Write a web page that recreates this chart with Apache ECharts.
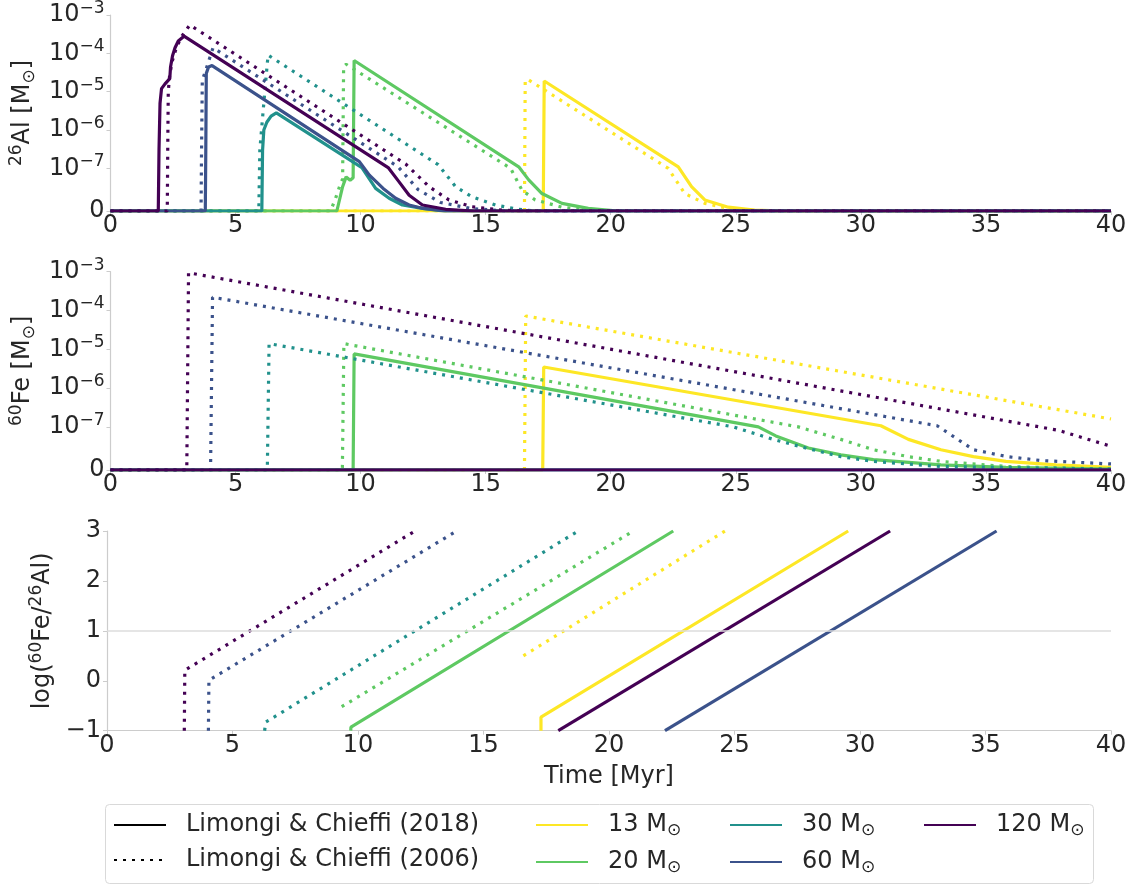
<!DOCTYPE html>
<html>
<head>
<meta charset="utf-8">
<script src="https://cdn.jsdelivr.net/npm/echarts@6.0.0/dist/echarts.min.js"></script>
<style>
  html, body { margin: 0; padding: 0; background: #ffffff; }
  #chart { width: 1137px; height: 888px; }
</style>
</head>
<body>
<div id="chart"></div>
<script>
// ---- axis ticks ----
const timeTicks = [0, 5, 10, 15, 20, 25, 30, 35, 40];
const decadeExponents = [-7, -6, -5, -4, -3];
const ratioTicks = [-1, 0, 1, 2, 3];
const refLevel = 1;

// ---- legend entries ----
const masses = ['13 M⊙', '20 M⊙', '30 M⊙', '60 M⊙', '120 M⊙'];
const massColors = ['#fde725', '#5ec962', '#21918c', '#3b528b', '#440154'];
const modelNames = ['Limongi & Chieffi (2018)', 'Limongi & Chieffi (2006)'];

// ---- 26Al ejected mass [Msun] vs time [Myr], Limongi & Chieffi (2018) ----
const al26_LC18_13 = [[0,0],[17.30,0],[17.34,1.9e-5],[22.7,1.1e-7],[23.23,0.57e-7],[23.76,0.26e-7],[24.7,0.09e-7],[25.75,0.02e-7],[27.0,0],[40,0]];
const al26_LC18_20 = [[0,0],[9.05,0],[9.28,0.57e-7],[9.42,0.8e-7],[9.58,0.72e-7],[9.70,0.78e-7],[9.74,6.5e-5],[16.32,1.1e-7],[16.72,0.73e-7],[17.25,0.41e-7],[18.05,0.18e-7],[19.1,0.06e-7],[20.3,0],[40,0]];
const al26_LC18_30 = [[0,0],[6.05,0],[6.08,3e-7],[6.13,1.0e-6],[6.25,1.6e-6],[6.42,2.3e-6],[6.63,2.8e-6],[10.05,1.05e-7],[10.6,0.53e-7],[11.14,0.3e-7],[11.67,0.14e-7],[12.47,0.06e-7],[13.3,0],[40,0]];
const al26_LC18_60 = [[0,0],[3.79,0],[3.81,3e-7],[3.83,3e-5],[3.92,4.4e-5],[4.06,4.8e-5],[9.95,1.5e-7],[10.35,0.84e-7],[10.9,0.53e-7],[11.4,0.3e-7],[11.94,0.14e-7],[12.5,0.06e-7],[13.4,0],[40,0]];
const al26_LC18_120 = [[0,0],[1.91,0],[1.94,3.2e-7],[1.98,5e-6],[2.04,1.2e-5],[2.18,1.6e-5],[2.37,2.2e-5],[2.40,4.4e-5],[2.48,8.7e-5],[2.58,1.4e-4],[2.71,2.1e-4],[2.94,2.8e-4],[11.1,1.05e-7],[11.53,0.69e-7],[11.94,0.37e-7],[12.47,0.14e-7],[13.4,0.04e-7],[14.5,0],[40,0]];

// ---- 26Al, Limongi & Chieffi (2006) ----
const al26_LC06_13 = [[0,0],[16.55,0],[16.58,2.0e-5],[16.68,2.1e-5],[22.3,1.0e-7],[22.43,0.88e-7],[22.96,0.41e-7],[23.76,0.18e-7],[24.7,0.06e-7],[26.0,0],[40,0]];
const al26_LC06_20 = [[0,0],[8.8,0],[9.0,0.3e-7],[9.2,0.65e-7],[9.28,0.75e-7],[9.32,4.5e-5],[9.42,5.2e-5],[16.0,1.0e-7],[16.45,0.49e-7],[16.98,0.26e-7],[18.05,0.09e-7],[19.4,0],[40,0]];
const al26_LC06_30 = [[0,0],[5.93,0],[5.97,3e-7],[6.1,3e-6],[6.25,4e-5],[6.30,9e-5],[13.1,1.25e-7],[13.8,0.57e-7],[14.46,0.33e-7],[15.4,0.14e-7],[16.3,0.04e-7],[17.0,0],[40,0]];
const al26_LC06_60 = [[0,0],[3.62,0],[3.64,3e-7],[3.67,2e-5],[3.8,3.5e-5],[3.95,7e-5],[4.1,1.4e-4],[11.5,1.1e-7],[12.3,0.5e-7],[13.2,0.2e-7],[14.4,0.06e-7],[15.8,0],[40,0]];
const al26_LC06_120 = [[0,0],[2.27,0],[2.29,4e-7],[2.31,1e-5],[2.36,2.5e-5],[2.46,6e-5],[2.6,1.2e-4],[2.8,2.5e-4],[3.17,5.5e-4],[11.8,1.3e-7],[12.74,0.57e-7],[13.53,0.26e-7],[14.46,0.1e-7],[15.66,0.02e-7],[16.5,0],[40,0]];

// ---- 60Fe ejected mass [Msun], Limongi & Chieffi (2018) ----
const fe60_LC18_13 = [[0,0],[17.28,0],[17.32,3.5e-6],[30.8,1.07e-7],[31.9,0.71e-7],[33.2,0.47e-7],[34.5,0.31e-7],[35.8,0.2e-7],[37.8,0.12e-7],[40,0.06e-7]];
const fe60_LC18_20 = [[0,0],[9.70,0],[9.74,7.6e-6],[25.9,1.0e-7],[26.6,0.79e-7],[27.9,0.51e-7],[29.2,0.35e-7],[30.5,0.24e-7],[33.2,0.12e-7],[35.8,0.06e-7],[40,0.02e-7]];
const fe60_LC18_30 = [[0,0],[40,0]];
const fe60_LC18_60 = [[0,0],[40,0]];
const fe60_LC18_120 = [[0,0],[40,0]];

// ---- 60Fe, Limongi & Chieffi (2006) ----
const fe60_LC06_13 = [[0,0],[16.55,0],[16.6,7.2e-5],[40,1.6e-7]];
const fe60_LC06_20 = [[0,0],[9.27,0],[9.33,1.4e-5],[27.5,1.0e-7],[29.2,0.71e-7],[30.5,0.47e-7],[31.9,0.31e-7],[33.2,0.2e-7],[35.84,0.08e-7],[40,0.02e-7]];
const fe60_LC06_30 = [[0,0],[6.27,0],[6.34,1.4e-5],[24.9,1.0e-7],[26.5,0.71e-7],[27.8,0.51e-7],[29.2,0.31e-7],[30.5,0.2e-7],[33.2,0.08e-7],[40,0.02e-7]];
const fe60_LC06_60 = [[0,0],[4.0,0],[4.08,2.2e-4],[33.05,1.07e-7],[34.5,0.47e-7],[35.86,0.31e-7],[37.2,0.22e-7],[40,0.14e-7]];
const fe60_LC06_120 = [[0,0],[3.05,0],[3.12,9.4e-4],[37.9,0.92e-7],[40,0.55e-7]];

// ---- log(60Fe/26Al), Limongi & Chieffi (2018) ----
const ratio_LC18_13 = [[17.29,-1],[17.29,-0.73],[29.53,3]];
const ratio_LC18_20 = [[9.71,-1],[9.72,-0.93],[22.56,3]];
const ratio_LC18_30 = [];
const ratio_LC18_60 = [[22.23,-1],[35.44,3]];
const ratio_LC18_120 = [[17.98,-1],[31.2,3]];

// ---- log(60Fe/26Al), Limongi & Chieffi (2006) ----
const ratio_LC06_13 = [[16.59,0.5],[24.62,3]];
const ratio_LC06_20 = [[9.35,-0.52],[20.97,3]];
const ratio_LC06_30 = [[6.28,-1],[6.32,-0.83],[18.77,3]];
const ratio_LC06_60 = [[4.04,-1],[4.06,0.01],[13.93,3]];
const ratio_LC06_120 = [[3.08,-1],[3.10,0.21],[12.27,3]];

// ---- symmetric-log scale (linear below 1e-7, base 10 above) ----
const LINTHRESH = 1e-7;
const LINSCALE = 1 / (1 - 1 / 10);
function symlog(v) {
  return v <= LINTHRESH ? (v / LINTHRESH) * LINSCALE : LINSCALE + Math.log10(v / LINTHRESH);
}
const logTickPos = [0].concat(decadeExponents.map(e => symlog(Math.pow(10, e))));

const FONT = 'DejaVu Sans';
const TEXT = '#262626';
const SPINE = '#cccccc';
const LW = 3.2;
const DOTS = [3, 6];

const richText = {
  b: { fontSize: 24, lineHeight: 30, fontFamily: FONT, color: TEXT },
  s: { fontSize: 17, lineHeight: 17, verticalAlign: 'top', fontFamily: FONT, color: TEXT },
  d: { fontSize: 17, lineHeight: 17, verticalAlign: 'bottom', fontFamily: FONT, color: TEXT }
};

function symlogLabel(u) {
  if (u < 0.01) return '{b|0}';
  const e = Math.round(u - LINSCALE) + decadeExponents[0];
  return '{b|10}{s|−' + (-e) + '}';
}

const panels = [
  { LC18: [al26_LC18_13, al26_LC18_20, al26_LC18_30, al26_LC18_60, al26_LC18_120],
    LC06: [al26_LC06_13, al26_LC06_20, al26_LC06_30, al26_LC06_60, al26_LC06_120], log: true },
  { LC18: [fe60_LC18_13, fe60_LC18_20, fe60_LC18_30, fe60_LC18_60, fe60_LC18_120],
    LC06: [fe60_LC06_13, fe60_LC06_20, fe60_LC06_30, fe60_LC06_60, fe60_LC06_120], log: true },
  { LC18: [ratio_LC18_13, ratio_LC18_20, ratio_LC18_30, ratio_LC18_60, ratio_LC18_120],
    LC06: [ratio_LC06_13, ratio_LC06_20, ratio_LC06_30, ratio_LC06_60, ratio_LC06_120], log: false }
];

const gridBoxes = [
  { left: 107, right: 26, top: 11.7, height: 199.3 },
  { left: 107, right: 26, top: 271.7, height: 198.3 },
  { left: 107, right: 26, top: 531, height: 199.7 }
];

const series = [];
// model-style legend entries (black handles)
series.push({ name: modelNames[0], type: 'line', xAxisIndex: 0, yAxisIndex: 0, data: [], symbol: 'none',
  color: '#000', lineStyle: { color: '#000', width: LW, type: 'solid' } });
series.push({ name: modelNames[1], type: 'line', xAxisIndex: 0, yAxisIndex: 0, data: [], symbol: 'none',
  color: '#000', lineStyle: { color: '#000', width: LW, type: DOTS } });

panels.forEach((p, pi) => {
  if (pi === 2) {
    // horizontal reference level in the ratio panel
    series.push({ name: 'ref', type: 'line', xAxisIndex: 2, yAxisIndex: 2, data: [], symbol: 'none',
      markLine: { silent: true, symbol: ['none', 'none'], label: { show: false },
        lineStyle: { color: '#dddddd', width: 1.5, type: 'solid' }, data: [{ yAxis: refLevel }] } });
  }
  masses.forEach((m, mi) => {
    ['LC18', 'LC06'].forEach(model => {
      const raw = p[model][mi];
      series.push({
        name: m, type: 'line', xAxisIndex: pi, yAxisIndex: pi, symbol: 'none', showSymbol: false,
        color: massColors[mi],
        lineStyle: { color: massColors[mi], width: LW, type: model === 'LC18' ? 'solid' : DOTS },
        data: raw.map(d => [d[0], p.log ? symlog(d[1]) : d[1]])
      });
    });
  });
});

function xAxis(i) {
  const ax = {
    gridIndex: i, type: 'value', min: timeTicks[0], max: timeTicks[timeTicks.length - 1], interval: 5,
    axisLine: { show: true, onZero: false, lineStyle: { color: SPINE, width: 1.2 } },
    axisTick: { show: true, length: 4, lineStyle: { color: SPINE } },
    axisLabel: { fontSize: 24, fontFamily: FONT, color: TEXT, margin: 3 },
    splitLine: { show: false }
  };
  if (i === 2) {
    ax.name = 'Time [Myr]';
    ax.nameLocation = 'middle';
    ax.nameGap = 34;
    ax.nameTextStyle = { fontSize: 24, fontFamily: FONT, color: TEXT };
  }
  return ax;
}

function logYAxis(i, nameRich) {
  return {
    gridIndex: i, type: 'value', min: 0, max: symlog(Math.pow(10, decadeExponents[decadeExponents.length - 1])),
    axisLine: { show: true, onZero: false, lineStyle: { color: SPINE, width: 1.2 } },
    axisTick: { show: true, length: 4, customValues: logTickPos, lineStyle: { color: SPINE } },
    axisLabel: { customValues: logTickPos, formatter: symlogLabel, margin: 6, rich: richText },
    splitLine: { show: false },
    name: nameRich, nameLocation: 'middle', nameGap: 68,
    nameTextStyle: { rich: richText }
  };
}

const option = {
  animation: false,
  backgroundColor: '#ffffff',
  grid: gridBoxes.map(g => Object.assign({ containLabel: false }, g)),
  xAxis: [xAxis(0), xAxis(1), xAxis(2)],
  yAxis: [
    logYAxis(0, '{s|26}{b|Al [M}{d|⊙}{b|]}'),
    logYAxis(1, '{s|60}{b|Fe [M}{d|⊙}{b|]}'),
    {
      gridIndex: 2, type: 'value', min: ratioTicks[0], max: ratioTicks[ratioTicks.length - 1], interval: 1,
      axisLine: { show: true, onZero: false, lineStyle: { color: SPINE, width: 1.2 } },
      axisTick: { show: true, length: 4, lineStyle: { color: SPINE } },
      axisLabel: { fontSize: 24, fontFamily: FONT, color: TEXT, margin: 6,
        formatter: v => String(v).replace('-', '−') },
      splitLine: { show: false },
      name: '{b|log(}{s|60}{b|Fe/}{s|26}{b|Al)}', nameLocation: 'middle', nameGap: 45,
      nameTextStyle: { rich: richText }
    }
  ],
  graphic: [{
    type: 'rect', left: 105, top: 804, z: 1,
    shape: { width: 988, height: 79, r: 4 },
    style: { fill: '#ffffff', stroke: '#d9d9d9', lineWidth: 1 }
  }],
  legend: [
    [modelNames, 113],
    [masses.slice(0, 2), 535],
    [masses.slice(2, 4), 729],
    [masses.slice(4), 923]
  ].map(([names, left]) => ({
    data: names, left: left, top: 813, orient: 'vertical', padding: 0, z: 5,
    itemWidth: 52, itemHeight: 14, itemGap: 11, selectedMode: false,
    itemStyle: { color: 'rgba(0,0,0,0)', borderWidth: 0, opacity: 0 },
    formatter: n => n.indexOf('⊙') >= 0 ? '{b|' + n.replace('⊙', '') + '}{d|⊙}' : '{b|' + n + '}',
    textStyle: {
      padding: [0, 0, 0, 15],
      rich: {
        b: { fontSize: 24, lineHeight: 28, fontFamily: FONT, color: TEXT },
        d: { fontSize: 17, lineHeight: 17, verticalAlign: 'bottom', fontFamily: FONT, color: TEXT }
      }
    }
  })),
  series: series
};

const chart = echarts.init(document.getElementById('chart'), null, { renderer: 'canvas' });
chart.setOption(option);
</script>
</body>
</html>
